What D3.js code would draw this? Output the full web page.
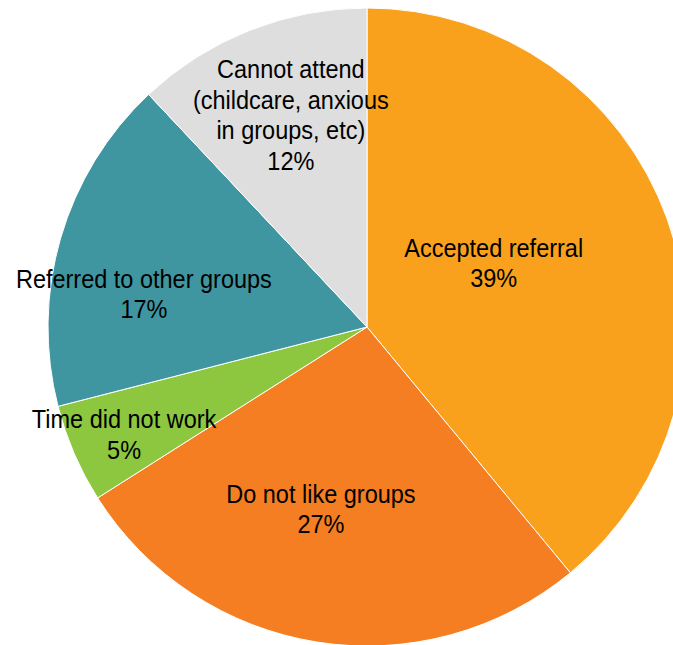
<!DOCTYPE html>
<html>
<head>
<meta charset="utf-8">
<script src="https://cdnjs.cloudflare.com/ajax/libs/d3/7.8.5/d3.min.js"></script>
<style>
  html, body { margin: 0; padding: 0; background: #fff; overflow: hidden; }
  svg { display: block; }
  .slice-label { font-family: "Liberation Sans", Arial, sans-serif; font-size: 25px; fill: #000; }
</style>
</head>
<body>
<div id="chart"></div>
<script>

// chart data, clockwise from 12 o'clock
var categories = [
  ['Accepted referral'],
  ['Do not like groups'],
  ['Time did not work'],
  ['Referred to other groups'],
  ['Cannot attend', '(childcare, anxious', 'in groups, etc)']
];
var values = [39, 27, 5, 17, 12];
var colors = ['#F9A11C', '#F47E21', '#8DC63F', '#3F96A0', '#DDDEDD'];

// label placement (fraction of radius, angle nudge in degrees) - excel "best fit" style
var labelRadius = [0.445, 0.589, 0.833, 0.707, 0.705];
var labelNudge  = [-7.0, 5.2, -0.5, -7.8, 1.8];

var width = 673,
    height = 645,
    cx = 367,
    cy = 327,
    radius = 319,
    lineHeight = 30.5,
    squeeze = 0.94; // reference font is a narrow face

var svg = d3.select('#chart').append('svg')
  .attr('width', width)
  .attr('height', height);

var g = svg.append('g')
  .attr('transform', 'translate(' + cx + ',' + cy + ')');

var pie = d3.pie().sort(null).value(function(d) { return d; });
var arcs = pie(values);

var arc = d3.arc().innerRadius(0).outerRadius(radius);

g.selectAll('path.slice')
  .data(arcs)
  .enter().append('path')
  .attr('class', 'slice')
  .attr('d', arc)
  .attr('fill', function(d, i) { return colors[i]; })
  .attr('stroke', '#fff')
  .attr('stroke-width', 1);

// labels: category lines + percentage
var labels = g.selectAll('text.slice-label')
  .data(arcs)
  .enter().append('text')
  .attr('class', 'slice-label')
  .attr('text-anchor', 'middle')
  .attr('transform', function(d, i) {
    var a = (d.startAngle + d.endAngle) / 2 + labelNudge[i] * Math.PI / 180;
    var r = labelRadius[i] * radius;
    return 'translate(' + (r * Math.sin(a)) + ',' + (-r * Math.cos(a)) + ') scale(' + squeeze + ',1)';
  });

labels.each(function(d, i) {
  var lines = categories[i].concat([d.value + '%']);
  var top = -(lines.length - 1) * lineHeight / 2;
  var t = d3.select(this);
  lines.forEach(function(line, j) {
    t.append('tspan')
      .attr('x', 0)
      .attr('y', top + j * lineHeight)
      .attr('dy', '0.35em')
      .text(line);
  });
});

</script>
</body>
</html>
